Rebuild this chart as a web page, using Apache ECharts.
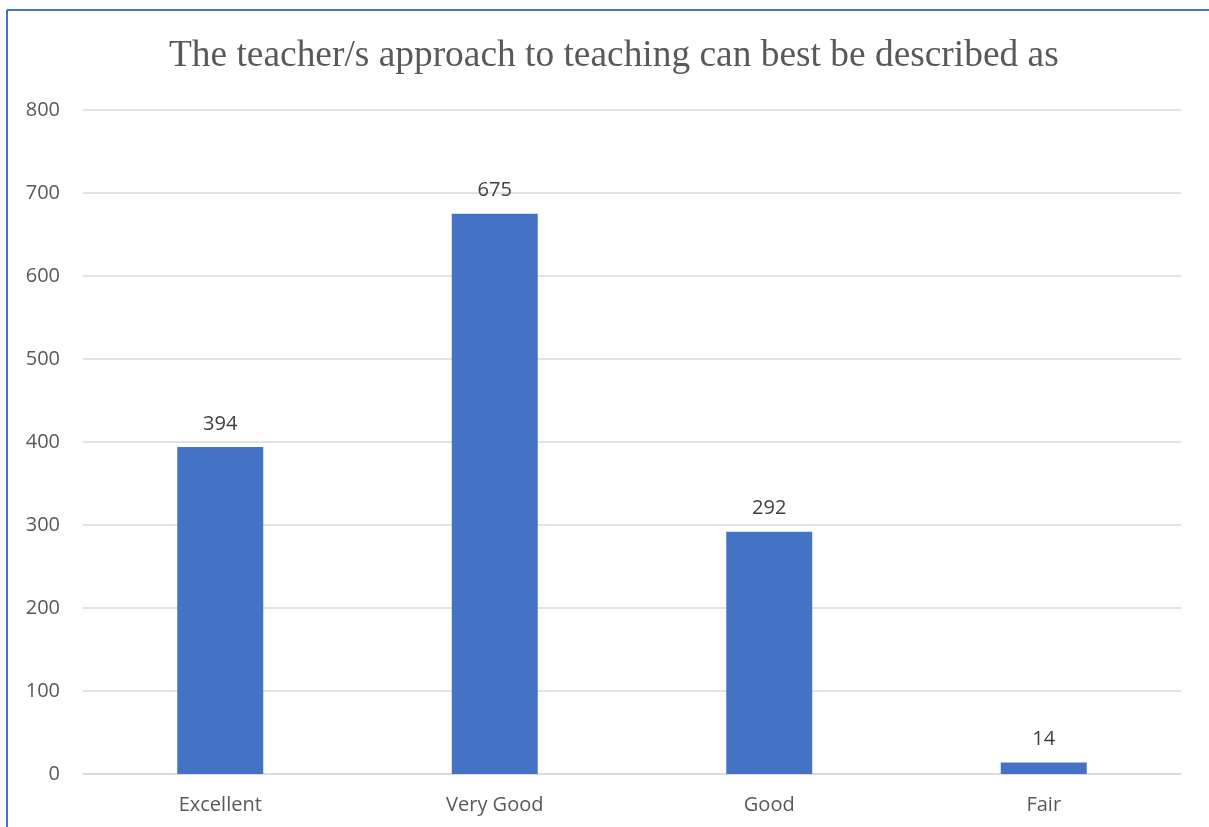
<!DOCTYPE html>
<html><head><meta charset="utf-8">
<script src="https://cdn.jsdelivr.net/npm/echarts@6/dist/echarts.min.js"></script>
<style>html,body{margin:0;padding:0;background:#fff}#c{width:1209px;height:827px}</style>
</head><body><div id="c"></div>
<script>
const categories = ['Excellent', 'Very Good', 'Good', 'Fair'];
const values = [394, 675, 292, 14];
const yTicks = [0, 100, 200, 300, 400, 500, 600, 700, 800];
const titleText = 'The teacher/s approach to teaching can best be described as';

const chart = echarts.init(document.getElementById('c'));
chart.setOption({
  animation: false,
  backgroundColor: '#fff',
  title: {
    text: titleText, left: 164, top: 33,
    textStyle: { fontFamily: 'Liberation Serif', fontSize: 37.4, fontWeight: 'normal', color: '#595959' }
  },
  graphic: [
    { type: 'line', shape: { x1: 7, y1: 10, x2: 1209, y2: 10 }, style: { stroke: '#4472C4', lineWidth: 2 } },
    { type: 'line', shape: { x1: 7, y1: 10, x2: 7, y2: 827 }, style: { stroke: '#4472C4', lineWidth: 2 } }
  ],
  grid: { left: 83, right: 28, top: 110, bottom: 53, containLabel: false },
  xAxis: {
    type: 'category', data: categories,
    axisLine: { lineStyle: { color: '#d9d9d9', width: 1.5 } },
    axisTick: { show: false },
    axisLabel: { color: '#595959', fontSize: 20, fontFamily: 'Open Sans', margin: 21 }
  },
  yAxis: {
    type: 'value', min: yTicks[0], max: yTicks[yTicks.length - 1], interval: 100,
    axisLine: { show: false }, axisTick: { show: false },
    splitLine: { lineStyle: { color: '#d9d9d9', width: 1.5 } },
    axisLabel: { color: '#595959', fontSize: 20, fontFamily: 'Open Sans', margin: 23 }
  },
  series: [{
    type: 'bar', data: values, barWidth: 86,
    itemStyle: { color: '#4472C4' },
    label: { show: true, position: 'top', distance: 13, color: '#404040', fontSize: 20, fontFamily: 'Open Sans' }
  }]
});
</script></body></html>
